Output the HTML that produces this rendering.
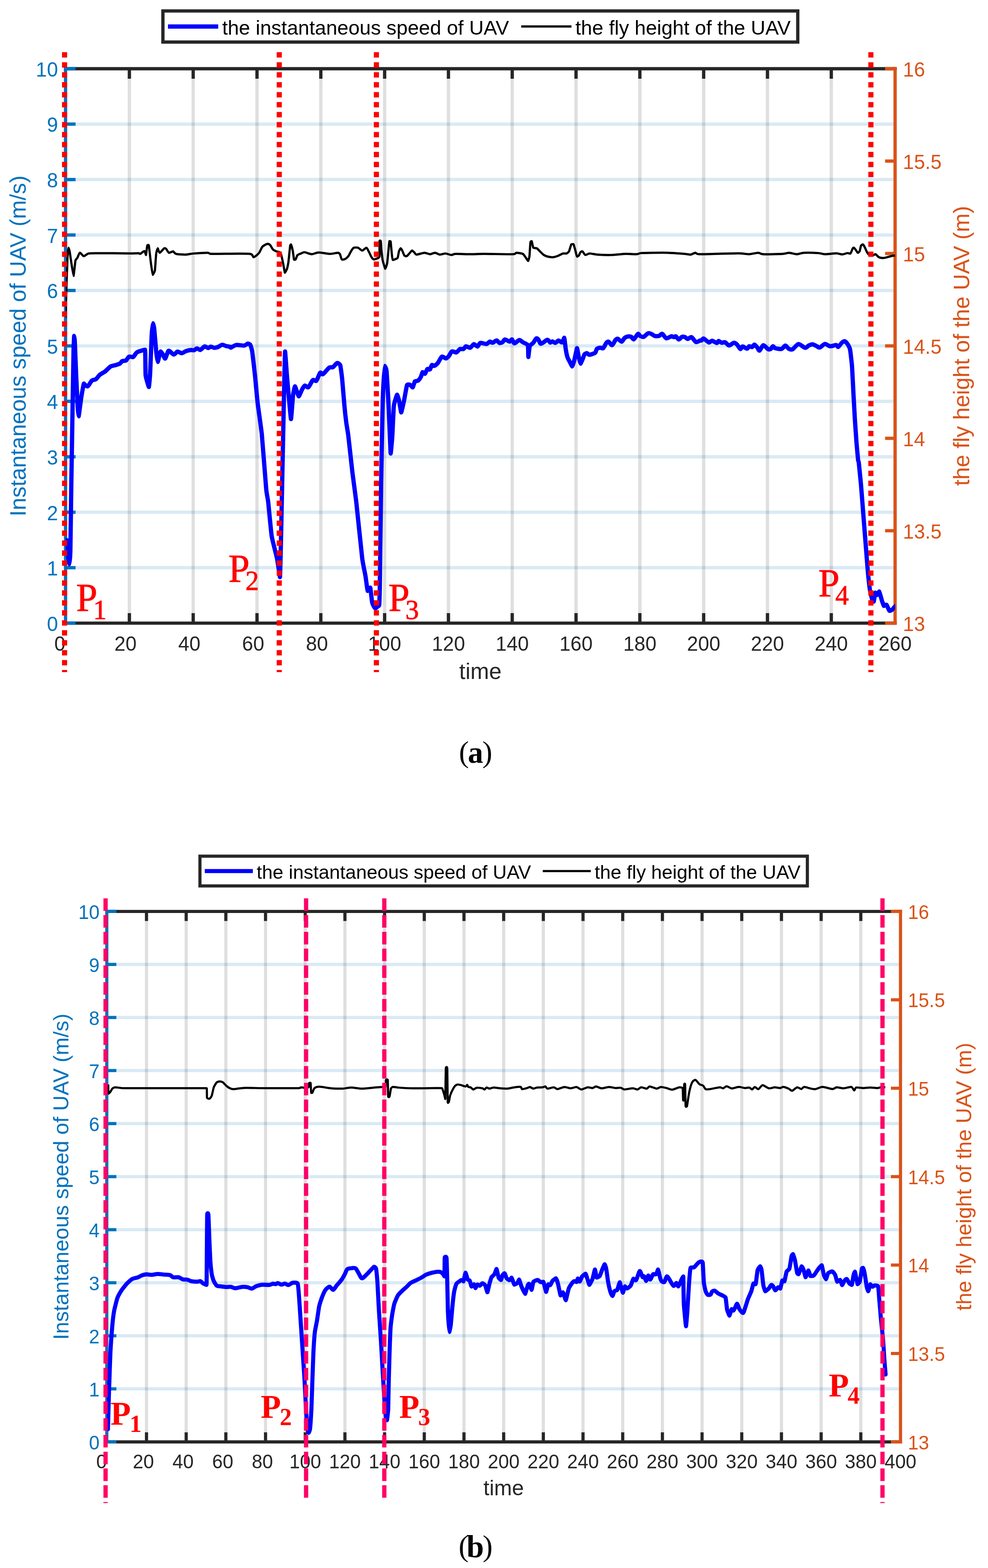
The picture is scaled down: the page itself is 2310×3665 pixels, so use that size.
<!DOCTYPE html>
<html lang="en">
<head>
<meta charset="utf-8">
<title>UAV instantaneous speed and fly height</title>
<style>
html,body{margin:0;padding:0;background:#fff;}
body{width:2310px;height:3665px;}
svg{display:block;}
</style>
</head>
<body>
<svg width="2310" height="3665" viewBox="0 0 2310 3665">
<rect width="2310" height="3665" fill="#fff"/>
<g id="chart-a">
<g stroke="#262626" stroke-opacity="0.15" stroke-width="7.7"><line x1="302.5" y1="160.6" x2="302.5" y2="1456.5"/><line x1="451.7" y1="160.6" x2="451.7" y2="1456.5"/><line x1="600.9" y1="160.6" x2="600.9" y2="1456.5"/><line x1="750.1" y1="160.6" x2="750.1" y2="1456.5"/><line x1="899.3" y1="160.6" x2="899.3" y2="1456.5"/><line x1="1048.5" y1="160.6" x2="1048.5" y2="1456.5"/><line x1="1197.6" y1="160.6" x2="1197.6" y2="1456.5"/><line x1="1346.8" y1="160.6" x2="1346.8" y2="1456.5"/><line x1="1496" y1="160.6" x2="1496" y2="1456.5"/><line x1="1645.2" y1="160.6" x2="1645.2" y2="1456.5"/><line x1="1794.4" y1="160.6" x2="1794.4" y2="1456.5"/><line x1="1943.6" y1="160.6" x2="1943.6" y2="1456.5"/></g>
<g stroke="#0072bd" stroke-opacity="0.15" stroke-width="7.7"><line x1="153.3" y1="1326.9" x2="2092.8" y2="1326.9"/><line x1="153.3" y1="1197.3" x2="2092.8" y2="1197.3"/><line x1="153.3" y1="1067.7" x2="2092.8" y2="1067.7"/><line x1="153.3" y1="938.1" x2="2092.8" y2="938.1"/><line x1="153.3" y1="808.5" x2="2092.8" y2="808.5"/><line x1="153.3" y1="678.9" x2="2092.8" y2="678.9"/><line x1="153.3" y1="549.3" x2="2092.8" y2="549.3"/><line x1="153.3" y1="419.7" x2="2092.8" y2="419.7"/><line x1="153.3" y1="290.1" x2="2092.8" y2="290.1"/></g>
<g stroke="#262626" stroke-width="7.7"><line x1="149.5" y1="160.6" x2="2096.7" y2="160.6"/><line x1="302.5" y1="160.6" x2="302.5" y2="184"/><line x1="451.7" y1="160.6" x2="451.7" y2="184"/><line x1="600.9" y1="160.6" x2="600.9" y2="184"/><line x1="750.1" y1="160.6" x2="750.1" y2="184"/><line x1="899.3" y1="160.6" x2="899.3" y2="184"/><line x1="1048.5" y1="160.6" x2="1048.5" y2="184"/><line x1="1197.6" y1="160.6" x2="1197.6" y2="184"/><line x1="1346.8" y1="160.6" x2="1346.8" y2="184"/><line x1="1496" y1="160.6" x2="1496" y2="184"/><line x1="1645.2" y1="160.6" x2="1645.2" y2="184"/><line x1="1794.4" y1="160.6" x2="1794.4" y2="184"/><line x1="1943.6" y1="160.6" x2="1943.6" y2="184"/><line x1="149.5" y1="1456.5" x2="2096.7" y2="1456.5"/><line x1="302.5" y1="1456.5" x2="302.5" y2="1433.1"/><line x1="451.7" y1="1456.5" x2="451.7" y2="1433.1"/><line x1="600.9" y1="1456.5" x2="600.9" y2="1433.1"/><line x1="750.1" y1="1456.5" x2="750.1" y2="1433.1"/><line x1="899.3" y1="1456.5" x2="899.3" y2="1433.1"/><line x1="1048.5" y1="1456.5" x2="1048.5" y2="1433.1"/><line x1="1197.6" y1="1456.5" x2="1197.6" y2="1433.1"/><line x1="1346.8" y1="1456.5" x2="1346.8" y2="1433.1"/><line x1="1496" y1="1456.5" x2="1496" y2="1433.1"/><line x1="1645.2" y1="1456.5" x2="1645.2" y2="1433.1"/><line x1="1794.4" y1="1456.5" x2="1794.4" y2="1433.1"/><line x1="1943.6" y1="1456.5" x2="1943.6" y2="1433.1"/></g>
<g stroke="#0072bd" stroke-width="7.7"><line x1="153.3" y1="156.7" x2="153.3" y2="1460.3"/><line x1="153.3" y1="1456.5" x2="176.7" y2="1456.5"/><line x1="153.3" y1="1326.9" x2="176.7" y2="1326.9"/><line x1="153.3" y1="1197.3" x2="176.7" y2="1197.3"/><line x1="153.3" y1="1067.7" x2="176.7" y2="1067.7"/><line x1="153.3" y1="938.1" x2="176.7" y2="938.1"/><line x1="153.3" y1="808.5" x2="176.7" y2="808.5"/><line x1="153.3" y1="678.9" x2="176.7" y2="678.9"/><line x1="153.3" y1="549.3" x2="176.7" y2="549.3"/><line x1="153.3" y1="419.7" x2="176.7" y2="419.7"/><line x1="153.3" y1="290.1" x2="176.7" y2="290.1"/><line x1="153.3" y1="160.5" x2="176.7" y2="160.5"/></g>
<g stroke="#d95319" stroke-width="7.7"><line x1="2092.8" y1="156.7" x2="2092.8" y2="1460.3"/><line x1="2092.8" y1="1456.5" x2="2069.4" y2="1456.5"/><line x1="2092.8" y1="1240.5" x2="2069.4" y2="1240.5"/><line x1="2092.8" y1="1024.5" x2="2069.4" y2="1024.5"/><line x1="2092.8" y1="808.5" x2="2069.4" y2="808.5"/><line x1="2092.8" y1="592.5" x2="2069.4" y2="592.5"/><line x1="2092.8" y1="376.5" x2="2069.4" y2="376.5"/><line x1="2092.8" y1="160.5" x2="2069.4" y2="160.5"/></g>
<g font-family='"Liberation Sans", Arial, Helvetica, sans-serif' font-size="48.0" fill="#262626" text-anchor="middle"><text transform="translate(140 1521.2) scale(0.97 1)">0</text><text transform="translate(293.5 1521.2) scale(0.97 1)">20</text><text transform="translate(442.7 1521.2) scale(0.97 1)">40</text><text transform="translate(591.9 1521.2) scale(0.97 1)">60</text><text transform="translate(741.1 1521.2) scale(0.97 1)">80</text><text transform="translate(899.3 1521.2) scale(0.97 1)">100</text><text transform="translate(1048.5 1521.2) scale(0.97 1)">120</text><text transform="translate(1197.6 1521.2) scale(0.97 1)">140</text><text transform="translate(1346.8 1521.2) scale(0.97 1)">160</text><text transform="translate(1496 1521.2) scale(0.97 1)">180</text><text transform="translate(1645.2 1521.2) scale(0.97 1)">200</text><text transform="translate(1794.4 1521.2) scale(0.97 1)">220</text><text transform="translate(1943.6 1521.2) scale(0.97 1)">240</text><text transform="translate(2092.8 1521.2) scale(0.97 1)">260</text></g>
<g font-family='"Liberation Sans", Arial, Helvetica, sans-serif' font-size="48.0" fill="#0072bd" text-anchor="end"><text transform="translate(135.6 1474.7) scale(0.97 1)">0</text><text transform="translate(135.6 1345.1) scale(0.97 1)">1</text><text transform="translate(135.6 1215.5) scale(0.97 1)">2</text><text transform="translate(135.6 1085.9) scale(0.97 1)">3</text><text transform="translate(135.6 956.3) scale(0.97 1)">4</text><text transform="translate(135.6 826.7) scale(0.97 1)">5</text><text transform="translate(135.6 697.1) scale(0.97 1)">6</text><text transform="translate(135.6 567.5) scale(0.97 1)">7</text><text transform="translate(135.6 437.9) scale(0.97 1)">8</text><text transform="translate(135.6 308.3) scale(0.97 1)">9</text><text transform="translate(135.6 178.7) scale(0.97 1)">10</text></g>
<g font-family='"Liberation Sans", Arial, Helvetica, sans-serif' font-size="48.0" fill="#d95319" text-anchor="start"><text transform="translate(2111 1474.7) scale(0.97 1)">13</text><text transform="translate(2111 1258.7) scale(0.97 1)">13.5</text><text transform="translate(2111 1042.7) scale(0.97 1)">14</text><text transform="translate(2111 826.7) scale(0.97 1)">14.5</text><text transform="translate(2111 610.7) scale(0.97 1)">15</text><text transform="translate(2111 394.7) scale(0.97 1)">15.5</text><text transform="translate(2111 178.7) scale(0.97 1)">16</text></g>
<text x="1123.1" y="1586.6" font-family='"Liberation Sans", Arial, Helvetica, sans-serif' font-size="52.4" fill="#262626" text-anchor="middle">time</text>
<text transform="translate(59.5 808.5) rotate(-90)" font-family='"Liberation Sans", Arial, Helvetica, sans-serif' font-size="52.4" fill="#0072bd" text-anchor="middle">Instantaneous speed of UAV (m/s)</text>
<text transform="translate(2266 808.5) rotate(-90)" font-family='"Liberation Sans", Arial, Helvetica, sans-serif' font-size="52.4" fill="#d95319" text-anchor="middle">the fly height of the UAV (m)</text>
<clipPath id="clip-a"><rect x="153.3" y="160.6" width="1939.5" height="1296"/></clipPath><g clip-path="url(#clip-a)">
<path d="M155.5 1262.1 C156 1267.3 158.8 1297.2 159.3 1301 C159.7 1304.8 162 1319.1 162.3 1319.1 C162.5 1319.1 164.2 1300.5 164.5 1288 C164.8 1275.6 166.4 1155 166.7 1132.5 C167.1 1110 169.4 971.8 169.7 951.1 C170.1 930.3 171.7 832.5 171.9 821.5 C172.2 810.4 173.3 785.2 173.4 785.2 C173.6 785.2 174.6 792.3 174.9 798.2 C175.2 804 177.5 863.1 177.9 873.3 C178.4 883.5 181.2 944.4 181.6 951.1 C182 957.7 183.7 973.1 183.9 973.1 C184.1 973.1 185.7 960.8 186.1 957.6 C186.6 954.4 189.9 929.2 190.6 925.2 C191.3 921.1 195.5 896.6 196.2 896.6 C196.9 896.6 202.3 904.1 204.8 903.1 C207.3 902.2 212.3 891.8 214.8 889.6 C217.4 887.4 221.7 888.2 224.2 886.4 C226.7 884.6 230.6 878.3 233.5 875.9 C236.4 873.5 242.5 870.7 245.8 868.2 C249.1 865.6 255.1 858.6 258.5 856.6 C261.8 854.7 267.9 854.1 270.8 853.2 C273.7 852.3 278.1 851.1 280.1 849.9 C282.2 848.6 284.2 844.7 286.1 843.8 C288 842.8 292.2 844.1 294.3 842.8 C296.4 841.4 299.5 834.7 301.7 833.6 C304 832.5 309 835.8 311.4 834.4 C313.9 833.1 316.7 825.7 320.4 823.4 C324.1 821.2 338.1 817.6 339 817.6 C340 817.6 339.9 871.4 340.5 877.2 C341.1 883 347.5 904.4 348 904.4 C348.5 904.4 350.5 881.4 351 873.3 C351.4 865.2 354.3 790.5 354.7 782.6 C355.2 774.7 357.4 755.4 357.7 755.4 C358 755.4 360.2 765.2 360.7 769.6 C361.2 774.1 364.6 816.4 365.2 821.5 C365.7 826.6 368.6 846.1 368.9 846.1 C369.2 846.1 371.4 836.1 371.9 834.4 C372.3 832.8 375.2 821.6 375.6 821.6 C376 821.6 379.4 826.3 380.8 828.5 C382.2 830.7 384.7 838.2 386 838.1 C387.3 838 389.3 830 390.5 827.6 C391.7 825.1 392.9 819.6 395 819.8 C397.1 819.9 403.5 828.3 406.2 828.6 C408.9 828.9 412.6 822.2 415.1 821.8 C417.6 821.4 422.1 825.8 424.8 825.6 C427.5 825.4 432.4 821.4 435.3 820.4 C438.2 819.4 444 818.3 446.5 818 C448.9 817.8 452 819.2 453.9 818.6 C455.8 818.1 458.7 814.3 460.6 814.2 C462.5 814.1 465.7 818.5 468.1 817.9 C470.5 817.3 476.1 810.3 478.5 809.7 C481 809.1 484.9 813.4 486.7 813.5 C488.6 813.6 490.8 810.3 492.7 810.2 C494.6 810.1 498.6 812.8 500.9 812.9 C503.2 813 507.4 811.9 509.9 811 C512.4 810 517.1 806.2 519.6 805.9 C522.1 805.6 526 808.2 528.5 808.8 C531 809.4 536.7 810.1 538.2 810.6 C539.8 811.1 538.2 813 540.1 812.4 C542 811.8 548.3 807 552.4 806.4 C556.5 805.8 567.5 808.2 571 807.8 C574.6 807.4 577.4 803.6 579.2 803.3 C581.1 803.1 584.5 804.7 585.2 805.9 C585.9 807.1 588.9 816.6 589.7 821.5 C590.4 826.4 595.6 871.8 596.4 879.8 C597.2 887.8 601.3 933 602.4 942 C603.4 951 610.7 1001.1 612.1 1014.6 C613.4 1028.1 621.5 1133.6 622.5 1144.2 C623.5 1154.7 626.1 1165.4 627 1172.7 C627.8 1179.9 633.8 1244.1 635.2 1253 C636.6 1261.9 646.6 1299.8 647.9 1306.2 C649.2 1312.6 654.1 1348.9 654.6 1348.9 C655.1 1348.9 657.8 1221.9 658.3 1197.3 C658.9 1172.7 662.2 1004.6 662.8 979.6 C663.3 954.5 666.1 821.5 666.5 821.5 C666.9 821.5 670.1 869.3 671 879.8 C671.9 890.3 679.7 979.6 680.3 979.6 C681 979.6 684.5 929 685.2 923.9 C685.8 918.8 689 903.1 689.6 903.1 C690.3 903.1 697.8 926.5 698.6 926.5 C699.4 926.5 704.9 912.7 706.8 909.3 C708.7 906 710.9 901.8 712.8 901.2 C714.7 900.7 718.5 906.9 721 905.2 C723.5 903.5 728.9 890.5 731.4 888.5 C733.9 886.4 737.3 892.2 739.6 889.9 C741.9 887.6 746.5 873.4 748.6 871.3 C750.7 869.3 752.5 876.1 755.3 874.5 C758.1 872.9 766.4 861.5 769.5 859.3 C772.5 857.1 775.9 859.6 778.4 858.1 C780.9 856.7 785.8 849.3 788.1 848.7 C790.4 848.1 794.8 851.4 795.6 853.9 C796.4 856.4 799.4 880 800 886.3 C800.7 892.6 804.6 941.7 805.3 948.5 C805.9 955.3 809.1 984.1 809.7 988.7 C810.3 993.2 813.3 1009.5 814.2 1017.2 C815.2 1024.9 822.7 1093.6 823.9 1104 C825.2 1114.4 831.3 1159.2 832.9 1172.7 C834.4 1186.2 845.6 1294.6 847 1306.2 C848.5 1317.7 853.7 1341.3 854.5 1346.3 C855.3 1351.4 859.2 1381.3 859.7 1381.3 C860.2 1381.3 865.2 1373.6 865.7 1373.6 C866.2 1373.6 869.4 1405.4 870.2 1408.5 C870.9 1411.7 875.2 1420.3 876.9 1421.5 C878.6 1422.7 881.6 1418.7 882.9 1417.6 C884.1 1416.6 886.2 1417.2 886.6 1413.7 C886.9 1410.3 887.8 1384.7 888.1 1365.8 C888.4 1346.9 890.6 1158.3 891.1 1129.9 C891.5 1101.6 894.2 959 894.8 940.7 C895.3 922.4 898.8 855.2 899.3 855.2 C899.7 855.2 903.1 861.1 903.7 866.8 C904.3 872.5 907.6 927.8 908.2 940.7 C908.9 953.6 913 1059.9 913.4 1059.9 C913.9 1059.9 916.7 1027.2 917.2 1019.8 C917.7 1012.3 920.1 955 920.9 948.5 C921.6 942 927.8 922.6 928.4 922.6 C928.9 922.6 932.2 932.8 932.8 935.5 C933.5 938.3 937.5 964 938.1 964 C938.6 964 943.9 939.8 944.8 935.5 C945.7 931.3 950.6 903 951.5 900.5 C952.4 898.1 956.4 898.6 958.2 899.2 C960 899.9 964.3 905.6 964.9 905.6 C965.5 905.6 969.3 892.4 970.1 891.3 C971 890.3 975.7 891 977.6 889.5 C979.5 888 983.6 881.6 984.3 880.3 C985 878.9 987.6 869.8 988 869.8 C988.5 869.8 992.1 874.6 993.6 873.6 C995.1 872.7 997.7 863.8 999.2 862.5 C1000.8 861.1 1003.8 864.7 1005.2 863.5 C1006.6 862.3 1008.4 854.4 1009.7 853.3 C1011 852.2 1013 855.8 1014.9 855.2 C1016.8 854.5 1021.4 851.1 1023.8 848.2 C1026.3 845.3 1030.7 835.1 1033.2 833.7 C1035.6 832.3 1040.3 838 1042.5 837.8 C1044.6 837.7 1047.3 834.7 1049.2 832.5 C1051.1 830.3 1054.3 822.5 1056.7 821.4 C1059 820.2 1064.6 824.4 1067.1 823.7 C1069.6 822.9 1073.1 816.9 1075.3 815.8 C1077.5 814.8 1081.6 816.7 1083.5 815.9 C1085.4 815.1 1087.4 809.9 1089.5 809.5 C1091.6 809.1 1096.7 813.5 1099.2 812.9 C1101.7 812.2 1105.8 804.8 1108.1 804.4 C1110.4 804 1114.3 810.3 1116.3 809.9 C1118.3 809.5 1120.3 802.4 1123.1 801.6 C1125.8 800.8 1134.2 804.5 1137.2 804 C1140.2 803.6 1143.5 798.8 1145.4 798.5 C1147.4 798.1 1149.7 801.5 1151.8 801.1 C1153.9 800.8 1159 795.7 1161.1 795.7 C1163.2 795.8 1165.9 801.2 1167.8 801.7 C1169.7 802.2 1173.6 800.6 1175.3 799.5 C1177 798.4 1178.3 793.6 1180.5 793.4 C1182.7 793.3 1189.5 798.5 1191.7 798.5 C1193.9 798.5 1195.4 792.7 1196.9 793.2 C1198.4 793.8 1200.6 802.4 1202.9 802.6 C1205.2 802.8 1211.4 795.1 1214.1 794.8 C1216.7 794.5 1220.3 798.7 1223 800.3 C1225.7 801.9 1233.4 804.4 1234.2 806.7 C1235 809 1235.1 834.4 1235.3 834.4 C1235.5 834.4 1237.9 810.8 1238.7 808.6 C1239.4 806.4 1244.9 803.5 1246.9 801.2 C1248.9 798.9 1252 792.2 1253.6 791.2 C1255.2 790.2 1257.3 792 1258.8 793.6 C1260.3 795.2 1262 803.4 1264.8 803.5 C1267.6 803.6 1276.8 794.7 1279.7 794.3 C1282.6 793.9 1284.8 800.2 1286.4 800.7 C1288 801.2 1290 797.8 1291.6 797.9 C1293.2 798 1296.5 801.7 1298.4 801.4 C1300.2 801.2 1303.7 796.2 1305.8 796 C1307.9 795.9 1312.2 801.1 1314 800.2 C1315.8 799.4 1318.8 789.6 1319.2 789.6 C1319.7 789.6 1322.4 814.5 1323 817.6 C1323.5 820.7 1326.4 833.8 1327.1 835.7 C1327.7 837.6 1330.9 843.3 1332.3 846.1 C1333.7 848.9 1337.4 856.5 1337.9 856.5 C1338.4 856.5 1342.4 843.5 1343.1 840.7 C1343.9 837.8 1348.6 813.7 1349.1 813.7 C1349.6 813.7 1353 833.8 1353.6 836.2 C1354.1 838.6 1356.9 850 1357.3 850 C1357.7 850 1361.9 840.3 1362.5 838.9 C1363.1 837.4 1366 829 1366.6 828.1 C1367.3 827.2 1370.7 825.3 1372.2 825.5 C1373.7 825.6 1375.6 829.5 1378.2 829.3 C1380.8 829.2 1389.3 826.3 1391.6 824.5 C1393.9 822.6 1393.7 817.1 1395.3 815.6 C1396.9 814 1401.5 812.9 1403.5 812.7 C1405.5 812.5 1408.4 815.5 1410.2 814 C1412.1 812.5 1416 803.5 1417.7 801.4 C1419.4 799.3 1421.1 797.9 1422.9 798.6 C1424.7 799.3 1428.9 807.4 1431.1 806.8 C1433.3 806.3 1437.5 796.3 1439.3 794.3 C1441.1 792.3 1442.7 791.2 1444.6 791.8 C1446.4 792.4 1451.4 798.9 1453.5 798.7 C1455.6 798.4 1458.3 791.7 1460.2 790 C1462.2 788.4 1466 786.8 1468.1 786.5 C1470.1 786.1 1474 786.4 1475.9 787.3 C1477.7 788.2 1479.8 794 1481.9 793.1 C1483.9 792.2 1489.6 781.4 1491.6 780.4 C1493.5 779.4 1495 784.4 1496.8 785.4 C1498.6 786.3 1502.5 788.2 1505 787.4 C1507.5 786.5 1512.9 779.7 1515.4 778.9 C1517.9 778 1521.5 780.1 1523.6 780.9 C1525.7 781.8 1528.8 784.7 1531.1 785.3 C1533.4 785.8 1538.5 785.8 1540.8 785.2 C1543.1 784.5 1546 779.6 1548.2 780.3 C1550.5 781.1 1555.1 790.1 1557.9 790.8 C1560.8 791.6 1567.6 786.3 1569.9 786 C1572.2 785.6 1573.7 788 1575.1 788 C1576.5 788.1 1578.7 785.5 1580.3 786.2 C1581.9 787 1585.1 793.3 1587 793.4 C1588.9 793.6 1592.6 788.1 1594.5 787.3 C1596.4 786.5 1599.4 787.1 1601.2 787.7 C1603 788.4 1605.8 792.1 1607.9 792.2 C1610 792.2 1614.3 787.1 1616.9 788.1 C1619.5 789.1 1624.6 798.5 1627.3 799.5 C1630 800.5 1635.3 796.3 1637 795.8 C1638.7 795.3 1638.9 796.5 1640 795.9 C1641.1 795.3 1642.9 790.8 1645.2 791.4 C1647.5 792 1654.5 799.7 1657.2 800.4 C1659.8 801.1 1662.5 796.3 1665 796.4 C1667.5 796.6 1673.8 801.6 1675.8 801.7 C1677.8 801.8 1678.7 797.2 1680.3 797.1 C1681.8 797.1 1685.4 800.8 1687.4 801.2 C1689.4 801.6 1692.9 799.1 1695.2 800 C1697.5 800.8 1701.8 807.3 1704.5 807.5 C1707.2 807.7 1712.9 801.7 1715.3 801.4 C1717.8 801 1720.7 802.9 1722.8 804.9 C1724.9 806.8 1729.2 815.1 1731 815.8 C1732.8 816.4 1734.1 809.9 1736.2 809.8 C1738.3 809.7 1744.6 815 1746.7 815 C1748.8 814.9 1750.3 809.6 1751.9 809.2 C1753.5 808.7 1757 811.8 1758.6 811.3 C1760.2 810.8 1762.2 805.5 1763.8 805.6 C1765.4 805.7 1769 810.3 1770.5 812.2 C1772.1 814 1773.9 820.2 1775.8 819.5 C1777.7 818.8 1782.1 807.4 1784.7 806.9 C1787.3 806.4 1792.9 814.5 1795.2 815.7 C1797.4 816.9 1800.3 816.6 1801.9 815.8 C1803.5 814.9 1805.7 809.6 1807.1 809.3 C1808.5 809 1809.6 812.8 1812.3 813.7 C1815 814.5 1824.1 816.5 1827.2 815.7 C1830.4 814.9 1833.9 807.8 1836.2 807.8 C1838.5 807.8 1842.1 814.3 1844.4 815.4 C1846.7 816.6 1850.4 817.7 1853.3 816.2 C1856.3 814.7 1862.9 804.7 1866.8 804.2 C1870.7 803.8 1879.2 812.5 1882.4 812.9 C1885.7 813.3 1889.1 808.4 1891.4 807.3 C1893.7 806.3 1897.3 804.6 1899.6 804.7 C1901.9 804.9 1906.3 807.5 1908.5 808.5 C1910.8 809.5 1914.1 812.9 1916.8 812.3 C1919.4 811.7 1925.5 804.3 1928.7 803.9 C1931.9 803.5 1937.1 809 1940.6 809.3 C1944.1 809.7 1952.2 806.4 1954.8 806.6 C1957.4 806.8 1958.2 811.5 1960 810.8 C1961.8 810 1966.2 802.9 1968.2 801.1 C1970.2 799.3 1973 796.9 1974.9 797.5 C1976.8 798.1 1980.7 802.7 1982.4 805.4 C1984.1 808.1 1987 814.2 1987.6 817.6 C1988.3 821 1991.5 849.1 1992.1 856.5 C1992.6 863.8 1995.4 919.5 1995.8 927.8 C1996.3 936 1998.4 973.8 1998.8 980.9 C1999.3 988 2002 1027.7 2002.5 1034 C2003 1040.3 2005.9 1072.4 2006.3 1075.5 C2006.6 1078.6 2007.3 1076.9 2007.8 1080.7 C2008.2 1084.5 2012.3 1124.7 2013 1132.5 C2013.7 1140.4 2017.5 1189.8 2018.2 1198.6 C2018.9 1207.4 2022.7 1255.9 2023.4 1264.7 C2024.1 1273.5 2028 1323.2 2028.6 1330.8 C2029.3 1338.4 2033.2 1374.1 2033.9 1378.7 C2034.6 1383.4 2038.5 1399 2039.1 1400.8 C2039.7 1402.6 2042.5 1406 2042.8 1406 C2043.2 1406 2046.2 1385.2 2046.6 1385.2 C2046.9 1385.2 2049.8 1390.8 2051 1390.4 C2052.2 1390.1 2055 1382.6 2055.5 1382.6 C2056 1382.6 2061.5 1402.4 2062.2 1404.7 C2063 1406.9 2066.2 1416.3 2066.7 1416.3 C2067.2 1416.3 2071 1412.3 2072.7 1413.7 C2074.3 1415.2 2077.7 1425.8 2079.4 1427.3 C2081.1 1428.9 2083.7 1426.5 2085.3 1425.4 C2086.9 1424.3 2090.1 1420.1 2091.3 1418.9 C2092.5 1417.7 2093.9 1416.7 2094.3 1416.3" fill="none" stroke="#0000ff" stroke-width="10" stroke-linejoin="round" stroke-linecap="round"/>
<path d="M153.3 742.4 C153.5 735 154.9 687.2 155.2 678.9 C155.4 670.7 157.5 607 157.8 601.2 C158.1 595.4 160 579.1 160.2 579.1 C160.5 579.1 162.7 586.5 163 588.2 C163.3 590 165.5 605.6 166 608.9 C166.5 612.3 171.5 645.2 171.9 645.2 C172.4 645.2 175.9 611.4 176.4 608.9 C176.9 606.5 179.7 604.6 180.9 602.5 C182.1 600.4 185.1 591.3 186.9 590.8 C188.6 590.4 193.5 598.4 195.8 598.6 C198.2 598.8 203.3 593.3 207 592.5 C210.8 591.7 221.1 591.9 227.9 591.8 C234.7 591.8 256.5 591.8 265.2 591.8 C273.9 591.9 295.6 592.4 302.5 592.4 C309.4 592.4 321.2 591.7 324.1 591.8 C327.1 592 326.3 594 327.9 593.4 C329.4 592.8 336 586.6 337.6 586.9 C339.1 587.2 341 596 341.3 596 C341.6 596 343.9 575.2 344.3 574 C344.7 572.7 347.5 571.7 348 574 C348.5 576.2 351.9 608.2 352.5 612.2 C353 616.2 356.6 642.6 356.9 642.6 C357.3 642.6 361.7 635.2 362.2 632.3 C362.6 629.4 364.8 595.5 365.2 592.5 C365.5 589.5 368.5 580.4 368.9 580.4 C369.2 580.4 371.6 590.8 373.4 590.8 C375.1 590.8 382.1 581.5 383.8 580.4 C385.5 579.4 387 580.5 388.3 581.7 C389.6 582.9 393.1 590.1 395 590.8 C396.9 591.5 402.8 587.3 404.7 587.6 C406.6 587.9 408.1 592.5 411.4 593.4 C414.7 594.3 428.2 595.2 433 595.1 C437.9 595 446.6 593 452.8 592.5 C459 592 481.4 590.7 486 590.8 C490.6 590.9 487.6 593.1 492.3 593.4 C497 593.7 515.5 593.1 526.3 593.1 C537 593.1 576.7 592.5 584.5 593.4 C592.2 594.3 590.8 600.9 592.7 601.2 C594.6 601.5 599.2 597.3 600.9 596 C602.5 594.6 605.4 591.8 606.8 589.5 C608.3 587.2 611.5 578.8 613.6 576.5 C615.6 574.3 622.7 570.5 624.7 570.1 C626.8 569.6 629.9 571.2 631.5 572.7 C633 574.2 636.4 581.3 638.2 583 C639.9 584.8 644.3 586.7 646.4 587.6 C648.5 588.5 655.2 589.4 656.1 590.8 C656.9 592.2 660.7 609.5 661.3 612.2 C661.9 614.9 665.8 637.5 666.1 637.5 C666.5 637.5 670.5 629.9 671 628.4 C671.5 626.9 673.9 615.4 674.4 612.2 C674.8 609 678.1 576.3 678.5 574 C678.8 571.6 680.5 571.4 680.7 571.4 C680.9 571.4 684 583.6 684.4 585.6 C684.8 587.7 687 605.1 687.4 606.4 C687.8 607.6 690.2 607.5 691.1 606.4 C692.1 605.2 694.1 598 695.6 596.4 C697.1 594.8 701.9 593.3 703.8 592.5 C705.7 591.7 709.2 589.3 712 589.5 C714.9 589.7 724.6 594.1 728.4 594.2 C732.3 594.3 740.2 590.2 745.2 590.2 C750.3 590.1 766.4 593.3 771.7 593.4 C777 593.5 787.7 590.7 790.4 590.8 C793 590.9 793.8 592.4 794.8 594.2 C795.9 596 797.8 605.1 799.3 606.4 C800.8 607.6 805.8 605.9 807.5 605.1 C809.2 604.2 812.7 601.2 814.2 599.1 C815.8 597 819.5 589.2 820.9 586.9 C822.4 584.6 825 580 826.9 579.1 C828.8 578.2 835 578.4 837.3 579.1 C839.7 579.9 844.8 585.6 847 585.6 C849.3 585.6 855 578.9 856.7 579.1 C858.5 579.4 860.6 585 862 587.6 C863.4 590.1 867.3 599 868.7 601.2 C870.1 603.4 872.2 606.1 873.9 606.4 C875.6 606.6 882 604.2 883.6 603.4 C885.2 602.5 887.1 601.4 887.3 599.1 C887.3 596.8 887.3 565.7 887.3 563.6 C887.5 561.5 890 562.3 890.3 563.6 C890.6 564.9 891.5 583 891.8 585.6 C892.1 588.3 894.3 606.5 894.8 608.9 C895.3 611.4 900.3 628.4 900.8 628.4 C901.2 628.4 904.8 617.9 905.2 615.4 C905.7 612.9 907.9 588.6 908.2 585.6 C908.5 582.6 910.2 563.6 910.5 563.6 C910.7 563.6 913.1 563.4 913.4 564.9 C913.7 566.4 915.4 587 915.7 589.5 C915.9 592 917.5 607.7 917.9 607.7 C918.3 607.7 923.2 606.3 924.6 605.7 C926 605.1 929.4 603.5 929.8 602.5 C930.3 601.4 932.4 588.9 932.8 587.6 C933.2 586.3 936 580.5 936.9 580.4 C937.9 580.4 940 585 941 586.9 C942 588.9 944.3 595.9 945.5 597.3 C946.7 598.6 949.7 599.2 951.1 598.6 C952.5 598 956 593.6 957.4 592.1 C958.9 590.6 962 585.8 963.4 585.6 C964.8 585.5 968.2 589.7 969.4 590.8 C970.6 591.9 971.2 595.1 973.9 595.1 C976.6 595.1 988.9 590.9 992.5 590.8 C996.2 590.7 1002.3 594.2 1005.2 594.2 C1008.1 594.2 1014.4 590.7 1017.1 590.8 C1019.8 590.9 1025.4 594.9 1028.3 595.1 C1031.2 595.3 1038.6 592.4 1041.7 592.5 C1044.9 592.6 1052.5 595.9 1055.2 596 C1057.9 596.1 1059.6 593.6 1064.9 593.4 C1070.1 593.2 1092.4 594.2 1100.3 594.2 C1108.2 594.2 1121.2 593.4 1132.7 593.4 C1144.3 593.4 1190.4 594.5 1199.1 594.2 C1207.3 593.9 1204.6 590.9 1207.3 590.8 C1210 590.7 1219.8 592.2 1222.3 593.4 C1224.7 594.6 1227.1 599.2 1228.6 601.2 C1230.1 603.1 1234.6 610.2 1234.9 610.2 C1235.3 610.2 1237.6 601.7 1237.9 599.1 C1238.2 596.5 1239.9 568.3 1240.2 566.2 C1240.5 564.1 1242.9 563.6 1243.1 563.6 C1243.4 563.6 1246.2 578.2 1246.9 579.1 C1247.6 580.1 1253.3 579.5 1255.1 580.4 C1256.8 581.3 1259.9 585.1 1261.8 586.9 C1263.7 588.7 1269.2 594.5 1271.5 596 C1273.8 597.5 1278.7 599.3 1281.2 599.9 C1283.7 600.5 1290.4 601.4 1293.1 601.2 C1295.8 601 1301.6 599.1 1304.3 598.1 C1307 597 1313.9 593.1 1316.3 592.5 C1318.6 591.8 1322.8 593.1 1324.5 592.5 C1326.1 591.9 1329.8 588.8 1330.4 587.6 C1331.1 586.3 1335 572.3 1335.6 571.4 C1336.3 570.4 1340.5 570.7 1340.9 570.7 C1341.2 570.7 1344.1 581.3 1344.6 583 C1345.1 584.7 1348.7 599.9 1349.1 599.9 C1349.4 599.9 1352.2 598.5 1353.2 597.3 C1354.1 596.1 1356.3 590.6 1357.3 589.5 C1358.3 588.4 1360.5 586.8 1361.8 587.6 C1363.1 588.3 1366.5 595.4 1368.5 596 C1370.4 596.6 1375.2 592.6 1378.5 592.5 C1381.8 592.4 1390.9 594.7 1396.8 595.1 C1402.8 595.5 1422 596.2 1429.6 596 C1437.3 595.8 1455.6 593.6 1462.5 593.4 C1469.3 593.2 1484.3 594.4 1488.6 594.2 C1492.8 593.9 1494.4 591.8 1499 591.5 C1503.6 591.1 1520.8 590.9 1528.1 590.8 C1535.4 590.7 1553.2 590.5 1561.7 590.8 C1570.1 591.1 1594.3 592.9 1600.5 593.4 C1606.6 593.9 1611.7 595.4 1614.6 595.1 C1617.6 594.8 1623.3 590.9 1625.8 590.8 C1628.4 590.7 1625.8 594 1636.3 594.2 C1647.8 594.3 1711.6 592.1 1725 592.1 C1738.4 592.1 1745.6 594.3 1751.1 594.2 C1756.7 594 1769 590.8 1772.8 590.8 C1776.6 590.8 1777.3 593.9 1784 594.2 C1790.7 594.5 1823.1 593.8 1830.2 593.4 C1837.4 593 1841.3 590.7 1845.1 590.8 C1849 590.9 1859 594.2 1863 594.2 C1867 594.2 1873.6 591.1 1879.5 590.8 C1885.3 590.5 1907.2 591.1 1913 591.5 C1918.9 591.8 1924.5 594.1 1929.4 594.2 C1934.4 594.3 1950.9 592 1955.5 592.1 C1960.2 592.2 1965.9 594.8 1969 594.7 C1972 594.6 1979.4 591.7 1981.7 591.5 C1983.9 591.2 1987 593.7 1988.4 592.5 C1989.8 591.3 1992.6 582.5 1993.6 581 C1994.5 579.4 1995.7 578.7 1996.6 579.1 C1997.4 579.5 2000 583 2001 584.3 C2002.1 585.7 2004.5 590.5 2005.5 590.8 C2006.6 591.1 2009.6 587.9 2010 586.9 C2010.4 586 2012.5 575.3 2013 574.3 C2013.4 573.4 2016.5 571.1 2017.5 571.4 C2018.4 571.6 2020 574.3 2021.2 576.5 C2022.4 578.8 2026.3 588.4 2027.9 590.8 C2029.5 593.2 2032.9 596.7 2034.6 597.3 C2036.4 597.9 2041.3 596.4 2042.8 596 C2044.3 595.6 2045.9 593.6 2047.3 594.2 C2048.7 594.8 2052.8 600.1 2054.8 601.2 C2056.8 602.2 2062.2 603.1 2064.5 603.1 C2066.7 603.1 2071.7 601.8 2074.2 601.2 C2076.6 600.6 2083.5 598.5 2085.7 598.1 C2087.9 597.6 2092 597.4 2092.8 597.3" fill="none" stroke="#000" stroke-width="5.2" stroke-linejoin="bevel" stroke-linecap="butt"/>
</g>
<rect x="380.9" y="25.6" width="1484.3" height="72.7" fill="#fff" stroke="#262626" stroke-width="7.7"/>
<line x1="392.7" y1="61.9" x2="510.2" y2="61.9" stroke="#0000ff" stroke-width="10"/>
<text x="519.4" y="81.2" font-family='"Liberation Sans", Arial, Helvetica, sans-serif' font-size="47.0" fill="#000">the instantaneous speed of UAV</text>
<line x1="1218.6" y1="61.9" x2="1336.1" y2="61.9" stroke="#000" stroke-width="5.2"/>
<text x="1345.3" y="81.2" font-family='"Liberation Sans", Arial, Helvetica, sans-serif' font-size="47.0" fill="#000">the fly height of the UAV</text>
<line x1="151" y1="122.1" x2="151" y2="1571" stroke="#ff0000" stroke-width="12" stroke-dasharray="12.5 10.79"/>
<line x1="652.9" y1="122.1" x2="652.9" y2="1571" stroke="#ff0000" stroke-width="12" stroke-dasharray="12.5 10.79"/>
<line x1="880" y1="122.1" x2="880" y2="1571" stroke="#ff0000" stroke-width="12" stroke-dasharray="12.5 10.79"/>
<line x1="2036.2" y1="122.1" x2="2036.2" y2="1571" stroke="#ff0000" stroke-width="12" stroke-dasharray="12.5 10.79"/>
<text transform="translate(178 1427.7) scale(0.96 1)" font-family='"Liberation Serif", "Times New Roman", serif' font-size="93" font-weight="normal" fill="#ff0000" stroke="#ff0000" stroke-width="1.0" stroke-linejoin="round">P<tspan font-size="66" dx="-10.2" dy="19.3">1</tspan></text>
<text transform="translate(534 1359.6) scale(0.96 1)" font-family='"Liberation Serif", "Times New Roman", serif' font-size="93" font-weight="normal" fill="#ff0000" stroke="#ff0000" stroke-width="1.0" stroke-linejoin="round">P<tspan font-size="66" dx="-10.2" dy="19.3">2</tspan></text>
<text transform="translate(908 1427.5) scale(0.96 1)" font-family='"Liberation Serif", "Times New Roman", serif' font-size="93" font-weight="normal" fill="#ff0000" stroke="#ff0000" stroke-width="1.0" stroke-linejoin="round">P<tspan font-size="66" dx="-10.2" dy="19.3">3</tspan></text>
<text transform="translate(1913.2 1394) scale(0.96 1)" font-family='"Liberation Serif", "Times New Roman", serif' font-size="93" font-weight="normal" fill="#ff0000" stroke="#ff0000" stroke-width="1.0" stroke-linejoin="round">P<tspan font-size="66" dx="-10.2" dy="19.3">4</tspan></text>
</g>
<g id="chart-b" transform="translate(103.023 1976.686) scale(0.9568)">
<g stroke="#262626" stroke-opacity="0.15" stroke-width="7.7"><line x1="250.3" y1="160.6" x2="250.3" y2="1456.5"/><line x1="347.3" y1="160.6" x2="347.3" y2="1456.5"/><line x1="444.2" y1="160.6" x2="444.2" y2="1456.5"/><line x1="541.2" y1="160.6" x2="541.2" y2="1456.5"/><line x1="638.2" y1="160.6" x2="638.2" y2="1456.5"/><line x1="735.2" y1="160.6" x2="735.2" y2="1456.5"/><line x1="832.1" y1="160.6" x2="832.1" y2="1456.5"/><line x1="929.1" y1="160.6" x2="929.1" y2="1456.5"/><line x1="1026.1" y1="160.6" x2="1026.1" y2="1456.5"/><line x1="1123.1" y1="160.6" x2="1123.1" y2="1456.5"/><line x1="1220" y1="160.6" x2="1220" y2="1456.5"/><line x1="1317" y1="160.6" x2="1317" y2="1456.5"/><line x1="1414" y1="160.6" x2="1414" y2="1456.5"/><line x1="1511" y1="160.6" x2="1511" y2="1456.5"/><line x1="1607.9" y1="160.6" x2="1607.9" y2="1456.5"/><line x1="1704.9" y1="160.6" x2="1704.9" y2="1456.5"/><line x1="1801.9" y1="160.6" x2="1801.9" y2="1456.5"/><line x1="1898.9" y1="160.6" x2="1898.9" y2="1456.5"/><line x1="1995.8" y1="160.6" x2="1995.8" y2="1456.5"/></g>
<g stroke="#0072bd" stroke-opacity="0.15" stroke-width="7.7"><line x1="153.3" y1="1326.9" x2="2092.8" y2="1326.9"/><line x1="153.3" y1="1197.3" x2="2092.8" y2="1197.3"/><line x1="153.3" y1="1067.7" x2="2092.8" y2="1067.7"/><line x1="153.3" y1="938.1" x2="2092.8" y2="938.1"/><line x1="153.3" y1="808.5" x2="2092.8" y2="808.5"/><line x1="153.3" y1="678.9" x2="2092.8" y2="678.9"/><line x1="153.3" y1="549.3" x2="2092.8" y2="549.3"/><line x1="153.3" y1="419.7" x2="2092.8" y2="419.7"/><line x1="153.3" y1="290.1" x2="2092.8" y2="290.1"/></g>
<g stroke="#262626" stroke-width="7.7"><line x1="149.5" y1="160.6" x2="2096.7" y2="160.6"/><line x1="250.3" y1="160.6" x2="250.3" y2="184"/><line x1="347.3" y1="160.6" x2="347.3" y2="184"/><line x1="444.2" y1="160.6" x2="444.2" y2="184"/><line x1="541.2" y1="160.6" x2="541.2" y2="184"/><line x1="638.2" y1="160.6" x2="638.2" y2="184"/><line x1="735.2" y1="160.6" x2="735.2" y2="184"/><line x1="832.1" y1="160.6" x2="832.1" y2="184"/><line x1="929.1" y1="160.6" x2="929.1" y2="184"/><line x1="1026.1" y1="160.6" x2="1026.1" y2="184"/><line x1="1123.1" y1="160.6" x2="1123.1" y2="184"/><line x1="1220" y1="160.6" x2="1220" y2="184"/><line x1="1317" y1="160.6" x2="1317" y2="184"/><line x1="1414" y1="160.6" x2="1414" y2="184"/><line x1="1511" y1="160.6" x2="1511" y2="184"/><line x1="1607.9" y1="160.6" x2="1607.9" y2="184"/><line x1="1704.9" y1="160.6" x2="1704.9" y2="184"/><line x1="1801.9" y1="160.6" x2="1801.9" y2="184"/><line x1="1898.9" y1="160.6" x2="1898.9" y2="184"/><line x1="1995.8" y1="160.6" x2="1995.8" y2="184"/><line x1="149.5" y1="1456.5" x2="2096.7" y2="1456.5"/><line x1="250.3" y1="1456.5" x2="250.3" y2="1433.1"/><line x1="347.3" y1="1456.5" x2="347.3" y2="1433.1"/><line x1="444.2" y1="1456.5" x2="444.2" y2="1433.1"/><line x1="541.2" y1="1456.5" x2="541.2" y2="1433.1"/><line x1="638.2" y1="1456.5" x2="638.2" y2="1433.1"/><line x1="735.2" y1="1456.5" x2="735.2" y2="1433.1"/><line x1="832.1" y1="1456.5" x2="832.1" y2="1433.1"/><line x1="929.1" y1="1456.5" x2="929.1" y2="1433.1"/><line x1="1026.1" y1="1456.5" x2="1026.1" y2="1433.1"/><line x1="1123.1" y1="1456.5" x2="1123.1" y2="1433.1"/><line x1="1220" y1="1456.5" x2="1220" y2="1433.1"/><line x1="1317" y1="1456.5" x2="1317" y2="1433.1"/><line x1="1414" y1="1456.5" x2="1414" y2="1433.1"/><line x1="1511" y1="1456.5" x2="1511" y2="1433.1"/><line x1="1607.9" y1="1456.5" x2="1607.9" y2="1433.1"/><line x1="1704.9" y1="1456.5" x2="1704.9" y2="1433.1"/><line x1="1801.9" y1="1456.5" x2="1801.9" y2="1433.1"/><line x1="1898.9" y1="1456.5" x2="1898.9" y2="1433.1"/><line x1="1995.8" y1="1456.5" x2="1995.8" y2="1433.1"/></g>
<g stroke="#0072bd" stroke-width="7.7"><line x1="153.3" y1="156.7" x2="153.3" y2="1460.3"/><line x1="153.3" y1="1456.5" x2="176.7" y2="1456.5"/><line x1="153.3" y1="1326.9" x2="176.7" y2="1326.9"/><line x1="153.3" y1="1197.3" x2="176.7" y2="1197.3"/><line x1="153.3" y1="1067.7" x2="176.7" y2="1067.7"/><line x1="153.3" y1="938.1" x2="176.7" y2="938.1"/><line x1="153.3" y1="808.5" x2="176.7" y2="808.5"/><line x1="153.3" y1="678.9" x2="176.7" y2="678.9"/><line x1="153.3" y1="549.3" x2="176.7" y2="549.3"/><line x1="153.3" y1="419.7" x2="176.7" y2="419.7"/><line x1="153.3" y1="290.1" x2="176.7" y2="290.1"/><line x1="153.3" y1="160.5" x2="176.7" y2="160.5"/></g>
<g stroke="#d95319" stroke-width="7.7"><line x1="2092.8" y1="156.7" x2="2092.8" y2="1460.3"/><line x1="2092.8" y1="1456.5" x2="2069.4" y2="1456.5"/><line x1="2092.8" y1="1240.5" x2="2069.4" y2="1240.5"/><line x1="2092.8" y1="1024.5" x2="2069.4" y2="1024.5"/><line x1="2092.8" y1="808.5" x2="2069.4" y2="808.5"/><line x1="2092.8" y1="592.5" x2="2069.4" y2="592.5"/><line x1="2092.8" y1="376.5" x2="2069.4" y2="376.5"/><line x1="2092.8" y1="160.5" x2="2069.4" y2="160.5"/></g>
<g font-family='"Liberation Sans", Arial, Helvetica, sans-serif' font-size="48.0" fill="#262626" text-anchor="middle"><text transform="translate(140.4 1521.2) scale(0.97 1)">0</text><text transform="translate(242.7 1521.2) scale(0.97 1)">20</text><text transform="translate(339.7 1521.2) scale(0.97 1)">40</text><text transform="translate(436.6 1521.2) scale(0.97 1)">60</text><text transform="translate(533.6 1521.2) scale(0.97 1)">80</text><text transform="translate(638.2 1521.2) scale(0.97 1)">100</text><text transform="translate(735.2 1521.2) scale(0.97 1)">120</text><text transform="translate(832.1 1521.2) scale(0.97 1)">140</text><text transform="translate(929.1 1521.2) scale(0.97 1)">160</text><text transform="translate(1026.1 1521.2) scale(0.97 1)">180</text><text transform="translate(1123.1 1521.2) scale(0.97 1)">200</text><text transform="translate(1220 1521.2) scale(0.97 1)">220</text><text transform="translate(1317 1521.2) scale(0.97 1)">240</text><text transform="translate(1414 1521.2) scale(0.97 1)">260</text><text transform="translate(1511 1521.2) scale(0.97 1)">280</text><text transform="translate(1607.9 1521.2) scale(0.97 1)">300</text><text transform="translate(1704.9 1521.2) scale(0.97 1)">320</text><text transform="translate(1801.9 1521.2) scale(0.97 1)">340</text><text transform="translate(1898.9 1521.2) scale(0.97 1)">360</text><text transform="translate(1995.8 1521.2) scale(0.97 1)">380</text><text transform="translate(2092.8 1521.2) scale(0.97 1)">400</text></g>
<g font-family='"Liberation Sans", Arial, Helvetica, sans-serif' font-size="48.0" fill="#0072bd" text-anchor="end"><text transform="translate(135.6 1474.7) scale(0.97 1)">0</text><text transform="translate(135.6 1345.1) scale(0.97 1)">1</text><text transform="translate(135.6 1215.5) scale(0.97 1)">2</text><text transform="translate(135.6 1085.9) scale(0.97 1)">3</text><text transform="translate(135.6 956.3) scale(0.97 1)">4</text><text transform="translate(135.6 826.7) scale(0.97 1)">5</text><text transform="translate(135.6 697.1) scale(0.97 1)">6</text><text transform="translate(135.6 567.5) scale(0.97 1)">7</text><text transform="translate(135.6 437.9) scale(0.97 1)">8</text><text transform="translate(135.6 308.3) scale(0.97 1)">9</text><text transform="translate(135.6 178.7) scale(0.97 1)">10</text></g>
<g font-family='"Liberation Sans", Arial, Helvetica, sans-serif' font-size="48.0" fill="#d95319" text-anchor="start"><text transform="translate(2111 1474.7) scale(0.97 1)">13</text><text transform="translate(2111 1258.7) scale(0.97 1)">13.5</text><text transform="translate(2111 1042.7) scale(0.97 1)">14</text><text transform="translate(2111 826.7) scale(0.97 1)">14.5</text><text transform="translate(2111 610.7) scale(0.97 1)">15</text><text transform="translate(2111 394.7) scale(0.97 1)">15.5</text><text transform="translate(2111 178.7) scale(0.97 1)">16</text></g>
<text x="1123.1" y="1586.6" font-family='"Liberation Sans", Arial, Helvetica, sans-serif' font-size="52.4" fill="#262626" text-anchor="middle">time</text>
<text transform="translate(59.5 808.5) rotate(-90)" font-family='"Liberation Sans", Arial, Helvetica, sans-serif' font-size="52.4" fill="#0072bd" text-anchor="middle">Instantaneous speed of UAV (m/s)</text>
<text transform="translate(2266 808.5) rotate(-90)" font-family='"Liberation Sans", Arial, Helvetica, sans-serif' font-size="52.4" fill="#d95319" text-anchor="middle">the fly height of the UAV (m)</text>
<clipPath id="clip-b"><rect x="153.3" y="160.6" width="1939.5" height="1296"/></clipPath><g clip-path="url(#clip-b)">
<path d="M156.1 1425.4 C156.4 1414.4 158 1355.5 158.4 1343.1 C158.8 1330.7 161.5 1251.5 162 1240.1 C162.6 1228.6 166.3 1178.3 166.9 1171.4 C167.5 1164.5 170.4 1140.8 171.2 1136.4 C172 1132 177.9 1108.5 179 1105.3 C180.1 1102.1 185.4 1092.3 187.7 1088.5 C190.1 1084.6 194.2 1079.6 196.5 1076.8 C198.7 1074 202.2 1069.9 204.7 1067.4 C207.2 1065 212.1 1060.2 215.4 1058.5 C218.6 1056.8 225.8 1055.9 228.9 1054.7 C232.1 1053.5 236.3 1050.7 239.1 1049.7 C241.9 1048.7 246.6 1047.4 249.8 1047.2 C253 1047 259.7 1048.4 263.4 1048.3 C267 1048.2 273.5 1046.4 277.2 1046.3 C280.9 1046.2 286.9 1047.1 291 1047.5 C295.1 1047.8 304.7 1048 308 1048.9 C311.2 1049.8 312.5 1053.6 315.2 1054.3 C318 1055.1 325.7 1053.7 328.8 1054.4 C332 1055.1 336.3 1058.8 339 1059.5 C341.8 1060.3 346.7 1059.4 349.4 1060 C352.2 1060.6 356.7 1063.2 359.9 1063.9 C363.1 1064.6 370.5 1065.1 373.4 1065.1 C376.4 1065.1 380.1 1063.2 382.2 1063.8 C384.2 1064.4 387 1068.3 388.9 1069.5 C390.9 1070.7 396.5 1072.9 396.9 1072.9 C397.4 1072.9 397.6 1010.4 397.7 999 C397.8 987.6 398.4 908.3 398.6 901.8 C398.9 895.4 401.2 897.7 401.6 901.8 C401.9 906 403.7 956.4 404 964 C404.3 971.6 406 1010.3 406.4 1015.9 C406.8 1021.4 409.3 1043.9 409.8 1047 C410.3 1050.1 413.4 1060.7 414.2 1062.5 C415 1064.4 419.5 1072.8 421.9 1074.7 C424.3 1076.6 428.9 1076.2 432.1 1076.6 C435.3 1077.1 442.5 1078.1 445.7 1078.2 C448.9 1078.3 453.1 1077.2 456.1 1077.6 C459.1 1078 464.3 1081.1 468 1081.1 C471.6 1081.1 479.6 1078.1 483.5 1077.8 C487.4 1077.5 494.3 1078.1 497.6 1078.7 C500.8 1079.3 505 1082.3 507.7 1082 C510.5 1081.7 514.7 1077.5 517.9 1076.3 C521.2 1075 527.6 1073.1 532 1072.6 C536.4 1072.2 547.3 1073.3 550.9 1073 C554.5 1072.6 557.1 1070.3 559.1 1070 C561.2 1069.8 564.8 1071.3 566.4 1071.1 C568 1070.9 569.5 1068.3 571.3 1068.4 C573.1 1068.6 577.7 1072.1 580 1072.3 C582.3 1072.5 586.4 1069.5 588.7 1069.7 C591 1069.8 594.7 1073.6 597.2 1073.3 C599.7 1073 604.6 1068.2 607.6 1067.7 C610.6 1067.2 618.7 1067.2 619.7 1069.5 C620.8 1071.9 622.7 1097.1 623.1 1102.7 C623.6 1108.3 626.1 1147.1 626.5 1153.9 C627 1160.7 629.5 1198.2 629.9 1205.1 C630.4 1212 632.9 1250 633.3 1256.9 C633.8 1263.8 636.3 1300.7 636.7 1308.8 C637.2 1316.8 639.7 1369.7 640.1 1377.4 C640.6 1385.2 643.1 1421.6 643.5 1425.4 C643.9 1429.2 646.1 1434.5 646.4 1434.5 C646.7 1434.5 649.4 1429.2 649.8 1425.4 C650.3 1421.6 652.8 1385.2 653.2 1377.4 C653.6 1369.7 655.3 1317.9 655.6 1308.8 C656 1299.6 657.7 1248.1 658.1 1240.1 C658.5 1232 661.1 1193.5 661.7 1188.2 C662.3 1183 666.1 1165.2 666.8 1161 C667.5 1156.9 671.3 1129.8 672.1 1126 C672.9 1122.2 677.9 1106.7 678.9 1104 C679.9 1101.3 685.1 1088.6 687.6 1085.1 C690.2 1081.5 695.3 1077.4 697.8 1077.4 C700.3 1077.4 704.2 1085.5 706.5 1085.1 C708.9 1084.6 712.6 1077.3 715.3 1074.1 C718 1070.8 724.2 1064.3 726.9 1060.5 C729.6 1056.6 733.8 1048.8 735.6 1045.3 C737.5 1041.9 738.6 1036.3 741 1034.5 C743.3 1032.7 750.4 1032.1 753.1 1031.9 C755.8 1031.6 759.3 1030.8 761.3 1032.5 C763.4 1034.1 766.5 1041 768.6 1044.3 C770.7 1047.5 774.1 1056.5 776.8 1056.8 C779.6 1057.2 786 1049.7 789 1046.9 C791.9 1044.1 796.8 1038.3 799.2 1035.9 C801.5 1033.5 804.8 1029.2 806.4 1028.8 C808 1028.5 810.7 1030.8 811.3 1033.4 C811.8 1036 814.2 1060.8 814.7 1067.7 C815.1 1074.6 817.8 1127.2 818.3 1136.4 C818.9 1145.6 822.3 1195.9 822.9 1205.1 C823.5 1214.2 826.2 1263.4 826.8 1273.8 C827.4 1284.1 831.5 1352.3 832.1 1360.6 C832.7 1368.9 835.1 1395.3 835.5 1398.2 C835.9 1401 837.7 1403.4 837.9 1403.4 C838.2 1403.4 840.6 1383.8 840.9 1377.4 C841.1 1371.1 842.1 1317.9 842.3 1308.8 C842.5 1299.6 844 1248.8 844.2 1240.1 C844.5 1231.4 846.2 1184.3 846.7 1177.9 C847.1 1171.4 850.4 1147.5 851 1143.5 C851.7 1139.6 855.2 1121.2 856.1 1118.3 C857 1115.3 862.1 1103 864.6 1098.8 C867.2 1094.7 872.5 1089.9 875.3 1087.2 C878.1 1084.4 882.7 1080.6 885.5 1078.1 C888.2 1075.6 892.4 1070.6 895.6 1068.3 C898.8 1066.1 905.8 1063.3 909.5 1061.5 C913.1 1059.7 920.1 1056.3 923.3 1054.5 C926.5 1052.7 930.2 1049.4 933.5 1047.9 C936.7 1046.5 943.4 1044.4 947.5 1043.4 C951.7 1042.4 961.1 1040.6 964.5 1040.7 C967.9 1040.8 971.4 1042.7 973.2 1044.3 C975.1 1045.8 978 1052.2 978.3 1052.2 C978.6 1052.2 978.7 1009.8 979 1006.8 C979.4 1003.8 983 1002.7 983.4 1006.8 C983.8 1010.9 985.1 1059.1 985.3 1067.7 C985.6 1076.4 986.5 1128.4 986.8 1136.4 C987.1 1144.4 989.9 1188.2 990.2 1188.2 C990.5 1188.2 993.3 1175.3 993.8 1171.4 C994.3 1167.5 996.9 1135.4 997.5 1129.9 C998 1124.4 1001.6 1092.4 1002.3 1088.5 C1003 1084.5 1006.5 1072.1 1007.6 1070.3 C1008.8 1068.5 1017.5 1062 1019.8 1061.2 C1022 1060.4 1024.1 1064.3 1024.6 1064.3 C1025.1 1064.3 1029.5 1043.1 1030 1043.1 C1030.5 1043.1 1034.6 1058.7 1035.3 1060 C1036 1061.3 1039.5 1061.2 1040.1 1062.3 C1040.8 1063.4 1044 1077.1 1044.5 1077.1 C1045 1077.1 1050.1 1071.3 1050.6 1071.3 C1051 1071.3 1053.8 1080.9 1054.2 1080.9 C1054.6 1080.9 1057.7 1072.7 1059 1072 C1060.4 1071.2 1062.8 1075.4 1064.4 1075 C1066 1074.7 1069.4 1069.2 1071.2 1069.1 C1073 1068.9 1077.1 1072.6 1078 1074.1 C1078.8 1075.5 1082.8 1091 1083.3 1091 C1083.8 1091 1087.9 1071.7 1088.6 1069.2 C1089.3 1066.7 1092.7 1055.5 1093.5 1054 C1094.2 1052.6 1098.6 1049.8 1100.3 1047.1 C1101.9 1044.5 1105.1 1034 1105.6 1034 C1106.1 1034 1110.2 1053.7 1110.9 1055.5 C1111.7 1057.3 1116.3 1061.1 1116.7 1061.1 C1117.2 1061.1 1119.6 1050.7 1120.1 1049.6 C1120.7 1048.5 1124.1 1043.8 1125.5 1044.7 C1126.8 1045.6 1128.7 1054.1 1130.3 1056.4 C1131.9 1058.6 1135.7 1061.7 1137.4 1061.5 C1139 1061.4 1141.9 1055.2 1142.4 1055.2 C1143 1055.2 1148.6 1072.4 1149.2 1072.4 C1149.9 1072.4 1155 1069.8 1156.5 1068.2 C1158.1 1066.5 1160.4 1060 1160.9 1060 C1161.3 1060 1165.7 1074.8 1166.7 1077.1 C1167.7 1079.4 1174.7 1094.9 1175.4 1094.9 C1176.1 1094.9 1181.5 1075 1182.2 1073.4 C1182.9 1071.8 1184.4 1069.2 1185.6 1070.8 C1186.8 1072.3 1190.9 1085.1 1191.4 1085.1 C1191.9 1085.1 1194.8 1066.9 1195.8 1065.3 C1196.8 1063.7 1203.6 1060.9 1206 1061 C1208.3 1061.1 1211.4 1065.4 1213.2 1066 C1215.1 1066.6 1219.4 1065.5 1220 1065.5 C1220.7 1065.5 1226.2 1090.1 1226.8 1090.1 C1227.4 1090.1 1231.7 1071.3 1232.1 1071.3 C1232.6 1071.3 1235.6 1074.6 1237 1073.5 C1238.4 1072.5 1240.5 1065.5 1242.3 1063.3 C1244.2 1061.1 1250.4 1056.8 1251.1 1056.8 C1251.7 1056.8 1255.2 1067.7 1255.9 1070.5 C1256.6 1073.3 1261.6 1098.8 1262.2 1098.8 C1262.8 1098.8 1267.4 1091.1 1268 1091.1 C1268.6 1091.1 1274.2 1110.5 1274.8 1110.5 C1275.5 1110.5 1281.1 1084.6 1282.1 1081.8 C1283.1 1079 1288.5 1071.1 1290.3 1068.7 C1292.1 1066.3 1294.2 1064.1 1295.7 1063.8 C1297.1 1063.4 1300.6 1065.9 1301 1065.9 C1301.4 1065.9 1304 1057.2 1304.4 1057.2 C1304.8 1057.2 1307.9 1065.1 1309.2 1064.5 C1310.6 1063.9 1312.7 1055.3 1314.6 1052.8 C1316.5 1050.2 1322.7 1045.5 1323.3 1045.5 C1323.9 1045.5 1327.5 1058.1 1328.2 1059.9 C1328.8 1061.8 1332 1072.9 1332.5 1072.9 C1333.1 1072.9 1339.4 1060.7 1340.3 1058.1 C1341.2 1055.6 1345.6 1035.3 1346.1 1035.3 C1346.6 1035.3 1350.2 1055.2 1350.7 1055.2 C1351.2 1055.2 1356.8 1052.8 1357.7 1051.4 C1358.7 1050 1363.7 1035.8 1364.5 1033.9 C1365.3 1032 1369.4 1022.4 1369.9 1022.4 C1370.3 1022.4 1373.2 1030.6 1373.7 1033.4 C1374.3 1036.2 1377.4 1060.7 1378.1 1064.3 C1378.7 1068 1382.7 1086.1 1383.4 1088.5 C1384.1 1090.8 1387.4 1100.1 1388.8 1100.1 C1390.1 1100.1 1392.1 1090.4 1393.6 1088.4 C1395.2 1086.5 1399.5 1086.9 1400.4 1085.4 C1401.3 1084 1406.2 1066.4 1406.7 1066.4 C1407.2 1066.4 1410.5 1080.1 1411.1 1081.8 C1411.6 1083.5 1414.1 1092.1 1414.5 1092.1 C1414.9 1092.1 1419.1 1076.4 1419.6 1076.4 C1420 1076.4 1422.8 1081.8 1424.6 1081.6 C1426.5 1081.4 1432.3 1076.5 1433.4 1074.9 C1434.4 1073.3 1439.5 1057.8 1440.2 1057.8 C1440.8 1057.8 1444.9 1063.5 1446.9 1061 C1449 1058.5 1453.6 1040.1 1455.7 1039.2 C1457.7 1038.3 1461.1 1052.4 1462.5 1054 C1463.8 1055.7 1464.7 1050.5 1465.9 1051.7 C1467 1053 1470.7 1063.4 1471.2 1063.4 C1471.7 1063.4 1476 1049.9 1476.5 1049.9 C1477 1049.9 1479.8 1060.3 1481.4 1059.9 C1482.9 1059.6 1486.3 1048.7 1488.2 1047 C1490 1045.3 1493.8 1048.6 1495.4 1047 C1497.1 1045.4 1499.8 1035.3 1500.3 1035.3 C1500.8 1035.3 1505 1054.4 1505.6 1056.3 C1506.2 1058.2 1507.7 1062.4 1509 1063.7 C1510.4 1065 1514.1 1067.3 1515.8 1065.7 C1517.5 1064.2 1520 1053 1521.6 1052.2 C1523.2 1051.3 1525.7 1056.2 1527.9 1059.3 C1530.1 1062.4 1535.8 1074.2 1538.1 1075.3 C1540.4 1076.5 1543.5 1068 1545.1 1068.2 C1546.7 1068.3 1548.6 1077.3 1550.2 1076.4 C1551.8 1075.5 1555.5 1064.5 1557 1061.2 C1558.6 1058 1561.6 1052.2 1561.9 1052.2 C1562.2 1052.2 1562.9 1111.4 1563.3 1119.6 C1563.8 1127.7 1568.2 1174 1568.7 1174 C1569.1 1174 1571.5 1143.5 1572 1136.4 C1572.5 1129.3 1575.6 1074.7 1576.2 1067.7 C1576.7 1060.7 1579 1033.9 1579.8 1031.4 C1580.6 1028.9 1586 1031.3 1588 1030.1 C1590.1 1029 1593.5 1024.4 1595.1 1022.7 C1596.7 1021.1 1598.6 1018.6 1600.2 1017.7 C1601.8 1016.8 1605.7 1015.6 1607 1015.9 C1608.2 1016.2 1609.3 1016.3 1609.6 1019.8 C1610 1023.2 1611.8 1063.1 1612.3 1067.7 C1612.8 1072.3 1616 1086.5 1616.7 1088.5 C1617.3 1090.4 1619.9 1095.9 1621.5 1097 C1623.1 1098.1 1627.4 1097.5 1628.8 1096.5 C1630.2 1095.5 1630.8 1090.6 1632.2 1089.4 C1633.5 1088.2 1636.9 1086.6 1639 1087.2 C1641 1087.9 1645.2 1092.6 1647.7 1094.1 C1650.2 1095.7 1655.5 1097.5 1657.9 1098.8 C1660.2 1100.1 1664.6 1101.7 1665.4 1104 C1666.1 1106.3 1668.4 1130.1 1669 1133.1 C1669.6 1136 1674.3 1148.1 1674.8 1148.1 C1675.4 1148.1 1679.7 1132.1 1680.2 1132.1 C1680.6 1132.1 1683.4 1136.2 1684.5 1135.6 C1685.7 1135 1687.7 1129.9 1688.9 1127.7 C1690.1 1125.5 1692.4 1118.4 1693.7 1119 C1695.1 1119.6 1697.2 1128.8 1699.1 1131.9 C1701 1134.9 1706 1141.8 1707.8 1141.6 C1709.7 1141.3 1712.1 1132.2 1712.9 1129.9 C1713.7 1127.7 1718.9 1110.7 1719.9 1107.9 C1720.9 1105.1 1727.3 1091 1728.2 1088.5 C1729.1 1085.9 1733 1069.5 1733.5 1069.5 C1734 1069.5 1738.4 1071.2 1738.8 1071.2 C1739.3 1071.2 1742.9 1039.5 1743.7 1036.6 C1744.4 1033.7 1749.5 1027.5 1750 1027.5 C1750.4 1027.5 1752.9 1033.5 1753.4 1036.6 C1753.9 1039.8 1757.1 1071.3 1757.8 1074.7 C1758.4 1078.2 1762 1088.5 1762.6 1088.5 C1763.2 1088.5 1769.5 1083.2 1771.3 1081.2 C1773.2 1079.2 1775.3 1073.8 1776.7 1073.2 C1778 1072.5 1780.2 1074.5 1781.5 1076.2 C1782.9 1077.9 1785.2 1085.7 1786.8 1086.1 C1788.5 1086.4 1792 1079.4 1793.6 1078.8 C1795.2 1078.3 1798.5 1081.9 1799 1081.9 C1799.5 1081.9 1803.6 1062 1804.1 1062 C1804.5 1062 1808.7 1064.3 1809.1 1064.3 C1809.6 1064.3 1813.7 1042.6 1814.5 1040.5 C1815.3 1038.4 1820.5 1035.9 1821.3 1033.4 C1822.1 1030.9 1826 1005.3 1826.6 1002.9 C1827.2 1000.5 1829.6 997.7 1830 997.7 C1830.4 997.7 1834.2 1009.3 1834.8 1012.3 C1835.5 1015.4 1839.6 1041.4 1840.2 1043.7 C1840.8 1046 1843.1 1047 1843.6 1047 C1844.1 1047 1850.8 1027.4 1851.3 1027.4 C1851.9 1027.4 1855 1033.6 1855.7 1035.4 C1856.3 1037.2 1860.5 1054.3 1861 1054.3 C1861.6 1054.3 1867.3 1037.6 1867.8 1037.6 C1868.4 1037.6 1872.3 1051.3 1872.9 1051.3 C1873.5 1051.3 1878.9 1051.6 1881.4 1049.3 C1883.9 1047 1889.3 1037.4 1891.8 1034.2 C1894.3 1030.9 1899.7 1024.9 1900.3 1024.9 C1900.9 1024.9 1904.9 1046.7 1905.6 1049 C1906.3 1051.3 1910.3 1059.2 1910.7 1059.2 C1911.2 1059.2 1914.8 1045.8 1915.8 1044.5 C1916.9 1043.2 1923.9 1039.5 1926.2 1040.1 C1928.6 1040.7 1932.5 1047.3 1933.3 1049 C1934.1 1050.6 1937.6 1065.2 1938.1 1065.2 C1938.7 1065.2 1944.6 1060.6 1945.2 1060.6 C1945.7 1060.6 1949.8 1073.5 1950.2 1073.5 C1950.7 1073.5 1954.1 1065.6 1955.6 1063.6 C1957.1 1061.6 1959.8 1057.8 1961.4 1058.5 C1963 1059.2 1966.1 1067.2 1967.7 1069.1 C1969.4 1071 1973.3 1073 1973.8 1073 C1974.2 1073 1977.4 1052.2 1977.9 1050.1 C1978.4 1047.9 1980.8 1040.5 1981.3 1040.5 C1981.8 1040.5 1987.5 1071.2 1988.1 1071.2 C1988.6 1071.2 1992.7 1066.9 1993.4 1064.3 C1994.1 1061.8 1997.9 1035.6 1998.5 1033.4 C1999.1 1031.2 2001.8 1031.4 2002.1 1031.4 C2002.5 1031.4 2005 1043.9 2005.5 1047 C2006.1 1050.1 2009.8 1075.3 2010.4 1078.1 C2010.9 1080.8 2013.6 1088.5 2014 1088.5 C2014.4 1088.5 2018.6 1071.5 2019.1 1071.5 C2019.6 1071.5 2023.1 1077.1 2024.4 1077.4 C2025.8 1077.8 2027.5 1074.3 2029.3 1074.2 C2031.1 1074.1 2037.3 1074.5 2038 1076.4 C2038.8 1078.3 2040 1097 2040.4 1102.2 C2040.9 1107.4 2044.2 1147 2044.8 1153.9 C2045.4 1160.8 2049.5 1198.2 2050.1 1205.1 C2050.7 1212 2053.1 1251.1 2053.5 1256.9 C2053.9 1262.7 2056 1287.2 2056.4 1291.9" fill="none" stroke="#0000ff" stroke-width="10" stroke-linejoin="round" stroke-linecap="round"/>
<path d="M156.7 583.4 C156.8 586 157.2 605.7 157.4 605.7 C157.6 605.7 160.9 602.6 162 601.2 C163.1 599.7 165.5 594.7 166.9 593.4 C168.3 592.1 170.9 590.4 174.1 590.3 C177.4 590.2 185.6 592.1 194.5 592.4 C203.4 592.6 235.3 592.4 250.3 592.4 C265.3 592.4 306.2 592.4 323 592.4 C339.8 592.4 385.6 592.2 394.3 592.4 C397.7 592.5 397.5 592 397.7 593.4 C397.9 594.8 397.8 614.6 398.2 616.1 C398.6 617.5 403.1 618.6 404.5 618 C405.8 617.4 409.2 612.5 409.8 610.9 C410.4 609.3 413.9 592.2 414.6 590.3 C415.4 588.4 420.1 579.9 421.9 578.2 C423.7 576.6 428.4 575.9 430.2 575.9 C431.9 575.9 435.4 576.9 437.2 578.2 C439 579.5 443.7 585.2 445.7 586.9 C447.7 588.6 452.4 591.8 454.4 592.7 C456.4 593.7 460.5 594.7 463.1 594.7 C465.7 594.7 473.1 593.4 476.7 593 C480.3 592.7 486.6 591.8 494.2 591.7 C501.7 591.6 526.4 592.3 541.2 592.4 C556 592.4 611.1 592.6 621.2 592.4 C628 592.1 626.2 590.4 628 590.3 C629.8 590.2 634.6 591.3 636.7 591.3 C638.9 591.3 645.8 591 646.4 590.3 C647 589.6 647.1 580.5 647.4 579.9 C647.7 579.3 651 578.6 651.3 579.9 C651.6 581.3 652.5 602 652.7 603.4 C653 604.7 654.8 604.5 655.6 603.4 C656.5 602.2 658.7 595 660 593.4 C661.3 591.7 664.6 589.7 666.8 589.3 C669 588.8 675.5 588.9 678.9 589.3 C682.3 589.6 692.1 591.6 696.1 592.1 C700.1 592.6 709.3 593.2 713.3 593.4 C717.3 593.5 726.1 593.7 730.5 593.4 C735 593.1 745.9 590.8 751.2 590.8 C756.4 590.8 769.4 593.3 775.4 593.4 C781.4 593.5 797 591.8 802.8 591.3 C808.6 590.9 821.6 589.7 825.3 589.5 C829 589.3 834 590.5 834.5 589.5 C835.1 588.5 835.2 573.4 835.5 572.4 C835.8 571.4 839.6 570 839.9 572.4 C840.2 574.8 840.6 610.5 840.9 612.8 C841.1 615.2 843.9 614 844.2 612.8 C844.6 611.7 847.2 594.8 847.6 593.4 C848.1 592 850.5 589.6 852.5 589.3 C854.5 588.9 859.2 590.4 864.6 590.8 C870 591.2 887 592.6 899 592.7 C911.1 592.9 959.2 592 967.9 592.1 C973.2 592.2 972.6 592.4 973.2 593.4 C973.8 594.4 977.6 607.4 978.1 608.9 C978.5 610.5 980.3 619.3 980.5 619.3 C980.6 619.3 981.4 548.5 981.7 544.2 C982 539.8 985.1 539.4 985.3 544.2 C985.6 548.9 986.1 621 986.3 625.8 C986.5 630.6 988.9 626.7 989.2 625.8 C989.6 624.9 991.7 612.5 992.1 610.9 C992.6 609.3 995.8 601.4 997.2 598.6 C998.6 595.8 1002.6 588.7 1004.3 586.9 C1005.9 585.1 1009.2 583.6 1011 583.4 C1012.9 583.2 1017.6 584.5 1019.8 585.1 C1022 585.7 1028.3 588.3 1030 588.2 C1031.6 588.1 1033.3 584.2 1034.1 584.3 C1034.9 584.5 1035.8 588.8 1036.7 589.5 C1037.7 590.2 1040.7 589.6 1042.1 590.3 C1043.5 591 1047.1 595.3 1048.9 595.5 C1050.7 595.6 1055 591.6 1057.6 591.3 C1060.2 591 1069 592.3 1071.2 592.7 C1073.4 593.2 1075.3 595.7 1076.5 595.5 C1077.7 595.2 1080 591 1081.4 590.8 C1082.7 590.6 1086.3 593.4 1088.4 593.4 C1090.4 593.4 1095.7 590.9 1098.8 590.8 C1101.9 590.7 1110.9 592.4 1114.8 592.7 C1118.7 593.1 1128.2 593.7 1132.3 593.4 C1136.3 593.1 1145.4 590.8 1149.2 590.3 C1153 589.8 1162.5 588.7 1164.7 589.3 C1167 589.8 1166.3 594.4 1168.1 594.7 C1170 595 1178.1 592.7 1180.3 592.1 C1182.5 591.5 1185.2 589.4 1187.1 589.5 C1188.9 589.7 1193.7 593.2 1195.8 593.4 C1197.8 593.5 1201.9 591.2 1204.5 590.8 C1207.1 590.4 1215.7 590.6 1218.1 590.3 C1220.5 590 1223.7 587.9 1225.1 588.2 C1226.5 588.6 1227.8 593.2 1230.2 593.4 C1232.6 593.6 1242.9 590.1 1245.7 590.3 C1248.6 590.4 1251.5 594.8 1254.5 594.7 C1257.4 594.6 1267.6 589.7 1271.4 589.5 C1275.2 589.3 1283.5 592.7 1286.9 592.7 C1290.4 592.7 1298 589.2 1301 589.5 C1304 589.8 1309.7 595.4 1312.9 595.5 C1316 595.6 1325 590.7 1328.2 590.3 C1331.3 589.9 1337.8 592.3 1340.3 592.1 C1342.7 591.9 1346.4 588.1 1349 588.2 C1351.6 588.3 1359 592.6 1362.6 592.7 C1366.2 592.9 1376 589.6 1380 589.5 C1384.1 589.4 1393.6 591.9 1397 592.1 C1400.4 592.3 1406.7 590.9 1409.1 591.3 C1411.6 591.7 1414.4 595.3 1417.9 595.5 C1421.3 595.6 1434.9 592.7 1438.7 592.7 C1442.5 592.7 1448 595.8 1450.3 595.5 C1452.7 595.2 1456.4 590.5 1459.1 590.3 C1461.7 590 1470.5 593.6 1472.9 593.4 C1475.3 593.2 1477.1 588.2 1479.9 588.2 C1482.7 588.2 1493.7 593.2 1496.9 593.4 C1500.1 593.5 1504.2 589.7 1507.1 589.5 C1509.9 589.4 1517.9 591.3 1521.1 592.1 C1524.4 592.9 1531.1 596.2 1534.7 596 C1538.3 595.8 1549.2 590.7 1552.2 590.3 C1555.2 589.9 1559.9 590.9 1560.4 592.7 C1561 594.6 1561.4 619.6 1561.6 621.3 C1561.8 622.9 1563.2 623.5 1563.3 621.3 C1563.5 619.1 1564.1 585.6 1564.3 583.4 C1564.5 581.2 1566.3 580.3 1566.5 583.4 C1566.7 586.5 1567.4 633.1 1567.7 636.2 C1567.9 639.2 1570.7 637.4 1571.1 636.2 C1571.5 634.9 1574 616.8 1574.5 614.1 C1574.9 611.5 1578.7 592.5 1579.3 590.3 C1579.9 588.1 1583.2 578.7 1584.7 576.5 C1586.1 574.4 1590 571.9 1591.4 572 C1592.9 572.1 1595.6 575.9 1596.8 577.2 C1598 578.5 1600.3 582 1601.9 583 C1603.4 584.1 1608.6 584.8 1610.3 586.1 C1612.1 587.5 1614.7 593.7 1616.7 594.7 C1618.6 595.7 1622.8 595.2 1626.8 594.7 C1630.9 594.2 1647.3 590.5 1651.1 590.3 C1654.9 590.1 1657.3 593.1 1659.3 592.7 C1661.3 592.4 1665.6 587.5 1668 587.6 C1670.5 587.6 1676.7 592.8 1680.2 593 C1683.6 593.2 1693.6 589.4 1697.4 589.3 C1701.2 589.1 1709.6 591.9 1712.7 592.1 C1715.7 592.3 1721.3 590.4 1723.3 590.8 C1725.4 591.2 1728.5 595.6 1730.1 595.5 C1731.7 595.3 1735.1 589.6 1736.9 589.5 C1738.7 589.4 1743.4 595.2 1745.6 594.7 C1747.8 594.2 1752.8 585.3 1755.8 585.1 C1758.8 584.9 1767.9 592.1 1771.3 592.7 C1774.8 593.4 1781.9 590.4 1785.1 590.3 C1788.4 590.2 1796.6 592.2 1799 592.1 C1801.4 592 1803.4 589.1 1805.8 589.3 C1808.1 589.4 1816.7 592.3 1819.3 593.4 C1821.9 594.5 1825.6 598.9 1828.1 598.6 C1830.5 598.2 1837.6 590.8 1840.2 590.3 C1842.8 589.8 1848.4 594.6 1850.4 594.4 C1852.4 594.3 1855 589.4 1857.4 589.3 C1859.8 589.1 1868 592.1 1871.2 592.7 C1874.4 593.4 1881.2 595.1 1884.8 594.7 C1888.4 594.3 1897.4 589.3 1902.2 589.3 C1907.1 589.2 1922.2 594.3 1926.2 594.4 C1930.3 594.6 1933.5 590.5 1936.7 590.3 C1939.9 590.1 1949.5 592.9 1953.6 592.7 C1957.8 592.6 1969.5 588.7 1972.6 589.3 C1975.6 589.8 1978.2 597.6 1979.6 597.8 C1981 598 1982 591.5 1984.7 590.8 C1987.3 590.1 1998.1 592.1 2002.1 592.1 C2006.1 592.1 2015.1 590.8 2019.1 590.8 C2023.1 590.8 2032.9 592.3 2036.3 592.1 C2039.7 592 2046 589.7 2048.2 589.5 C2050.4 589.3 2054.6 590.2 2055.5 590.3" fill="none" stroke="#000" stroke-width="5.2" stroke-linejoin="bevel" stroke-linecap="butt"/>
</g>
<rect x="380.9" y="25.6" width="1484.3" height="72.7" fill="#fff" stroke="#262626" stroke-width="7.7"/>
<line x1="392.7" y1="61.9" x2="510.2" y2="61.9" stroke="#0000ff" stroke-width="10"/>
<text x="519.4" y="81.2" font-family='"Liberation Sans", Arial, Helvetica, sans-serif' font-size="47.0" fill="#000">the instantaneous speed of UAV</text>
<line x1="1218.6" y1="61.9" x2="1336.1" y2="61.9" stroke="#000" stroke-width="5.2"/>
<text x="1345.3" y="81.2" font-family='"Liberation Sans", Arial, Helvetica, sans-serif' font-size="47.0" fill="#000">the fly height of the UAV</text>
<line x1="150.3" y1="128.6" x2="150.3" y2="1605.9" stroke="#ff0066" stroke-width="10.4" stroke-dasharray="30.58 10.385"/>
<line x1="640.3" y1="128.6" x2="640.3" y2="1597.3" stroke="#ff0066" stroke-width="10.4" stroke-dasharray="30.58 10.385"/>
<line x1="831.4" y1="128.6" x2="831.4" y2="1597.3" stroke="#ff0066" stroke-width="10.4" stroke-dasharray="30.58 10.385"/>
<line x1="2048.8" y1="128.6" x2="2048.8" y2="1605.9" stroke="#ff0066" stroke-width="10.4" stroke-dasharray="30.58 10.385"/>
<text transform="translate(162.5 1414.7) scale(1 1)" font-family='"Liberation Serif", "Times New Roman", serif' font-size="81" font-weight="bold" fill="#ff0000" stroke="#ff0000" stroke-width="0" stroke-linejoin="round">P<tspan font-size="59" dx="-3" dy="17.5">1</tspan></text>
<text transform="translate(529.4 1397.6) scale(1 1)" font-family='"Liberation Serif", "Times New Roman", serif' font-size="81" font-weight="bold" fill="#ff0000" stroke="#ff0000" stroke-width="0" stroke-linejoin="round">P<tspan font-size="59" dx="-3" dy="17.5">2</tspan></text>
<text transform="translate(867.7 1397.6) scale(1 1)" font-family='"Liberation Serif", "Times New Roman", serif' font-size="81" font-weight="bold" fill="#ff0000" stroke="#ff0000" stroke-width="0" stroke-linejoin="round">P<tspan font-size="59" dx="-3" dy="17.5">3</tspan></text>
<text transform="translate(1917.2 1345.5) scale(1 1)" font-family='"Liberation Serif", "Times New Roman", serif' font-size="81" font-weight="bold" fill="#ff0000" stroke="#ff0000" stroke-width="0" stroke-linejoin="round">P<tspan font-size="59" dx="-3" dy="17.5">4</tspan></text>
</g>
<g font-family='"Liberation Serif", "Times New Roman", serif' fill="#000" text-anchor="start">
<text x="1073" y="1783.4" font-size="70"><tspan dy="-2.5">(</tspan><tspan font-weight="bold" font-size="72" dx="-2.6" dy="2.5">a</tspan><tspan dx="-2.05" dy="-2.5">)</tspan></text>
<text x="1072.2" y="3640" font-size="70"><tspan dy="-2.6">(</tspan><tspan font-weight="bold" font-size="73" dx="-4.8" dy="2.6">b</tspan><tspan dx="-2.9" dy="-2.6">)</tspan></text>
</g>
</svg>
</body>
</html>
